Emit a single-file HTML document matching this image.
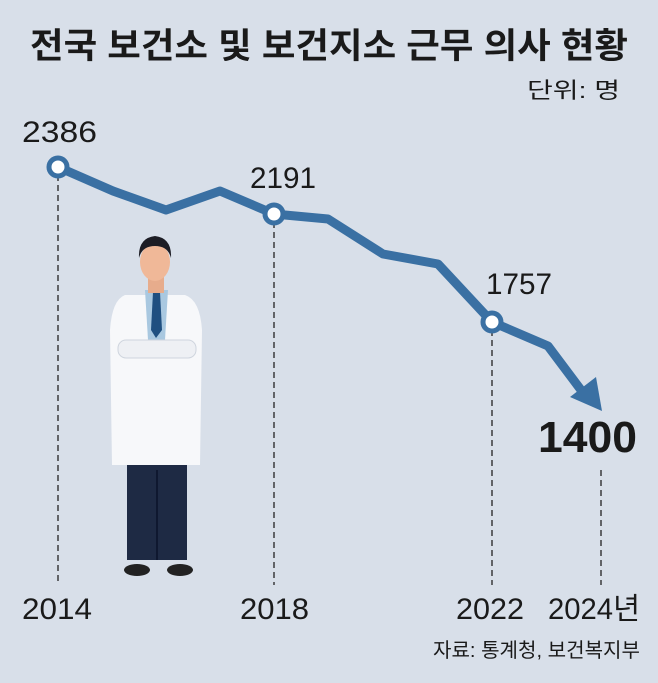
<!DOCTYPE html>
<html><head><meta charset="utf-8"><style>
body{margin:0;background:#d8dfe9;}
svg{display:block}
text{font-family:"Liberation Sans","Noto Sans CJK KR",sans-serif;fill:#1a1a1a}
</style></head><body>
<svg width="658" height="683" viewBox="0 0 658 683">
<rect width="658" height="683" fill="#d8dfe9"/>
<text x="30" y="58" font-size="35" font-weight="bold" textLength="598" lengthAdjust="spacingAndGlyphs">전국 보건소 및 보건지소 근무 의사 현황</text>
<text x="527" y="98" font-size="22" textLength="93" lengthAdjust="spacingAndGlyphs">단위: 명</text>
<g stroke="#222" stroke-width="1.3" stroke-dasharray="6,4">
<line x1="58" y1="175" x2="58" y2="585"/>
<line x1="274" y1="222" x2="274" y2="585"/>
<line x1="492" y1="330" x2="492" y2="585"/>
<line x1="601" y1="470" x2="601" y2="585"/>
</g>
<polyline points="58,167 113,191 166,210 220,191 274,214 328,219 383,254 438,264 492,322 548,346 584,394" fill="none" stroke="#3a70a3" stroke-width="9" stroke-linejoin="round"/>
<polygon points="602,411 570,397 596,377" fill="#3a70a3"/>
<g fill="#fff" stroke="#3a70a3" stroke-width="5">
<circle cx="58" cy="167" r="9"/><circle cx="274" cy="214" r="9"/><circle cx="492" cy="322" r="9"/>
</g>
<g font-size="30">
<text x="22" y="142" textLength="75" lengthAdjust="spacingAndGlyphs">2386</text>
<text x="250" y="188" textLength="66" lengthAdjust="spacingAndGlyphs">2191</text>
<text x="486" y="294" textLength="66" lengthAdjust="spacingAndGlyphs">1757</text>
<text x="22" y="619" textLength="70" lengthAdjust="spacingAndGlyphs">2014</text>
<text x="240" y="619" textLength="69" lengthAdjust="spacingAndGlyphs">2018</text>
<text x="456" y="619" textLength="68" lengthAdjust="spacingAndGlyphs">2022</text>
<text x="548" y="619" textLength="92" lengthAdjust="spacingAndGlyphs">2024년</text>
</g>
<text x="538" y="452" font-size="44" font-weight="bold" textLength="99" lengthAdjust="spacingAndGlyphs">1400</text>
<text x="433" y="657" font-size="20" textLength="207" lengthAdjust="spacingAndGlyphs">자료: 통계청, 보건복지부</text>
<!-- doctor -->
<g>
<rect x="127" y="460" width="60" height="100" fill="#1e2a44"/>
<line x1="157" y1="470" x2="157" y2="560" stroke="#0f1830" stroke-width="2"/>
<ellipse cx="137" cy="570" rx="13" ry="6" fill="#222"/>
<ellipse cx="180" cy="570" rx="13" ry="6" fill="#222"/>
<path d="M125 295 L185 295 Q200 300 202 330 L200 465 L112 465 L110 330 Q112 300 125 295Z" fill="#f7f8fa"/>
<path d="M145 290 L168 290 L165 340 L148 340Z" fill="#a9c8e0"/>
<path d="M153 292 L160 292 L162 330 L156 338 L151 330Z" fill="#1f4f80"/>
<rect x="148" y="275" width="16" height="18" fill="#e7ac8c"/>
<ellipse cx="155" cy="262" rx="15" ry="19" fill="#f0b898"/>
<path d="M139 258 Q138 238 155 236 Q172 238 171 258 Q168 246 155 246 Q142 246 139 258Z" fill="#1d1d25"/>
<rect x="118" y="340" width="78" height="18" rx="8" fill="#eef0f4" stroke="#cfd5de"/>
</g>
</svg>
</body></html>
